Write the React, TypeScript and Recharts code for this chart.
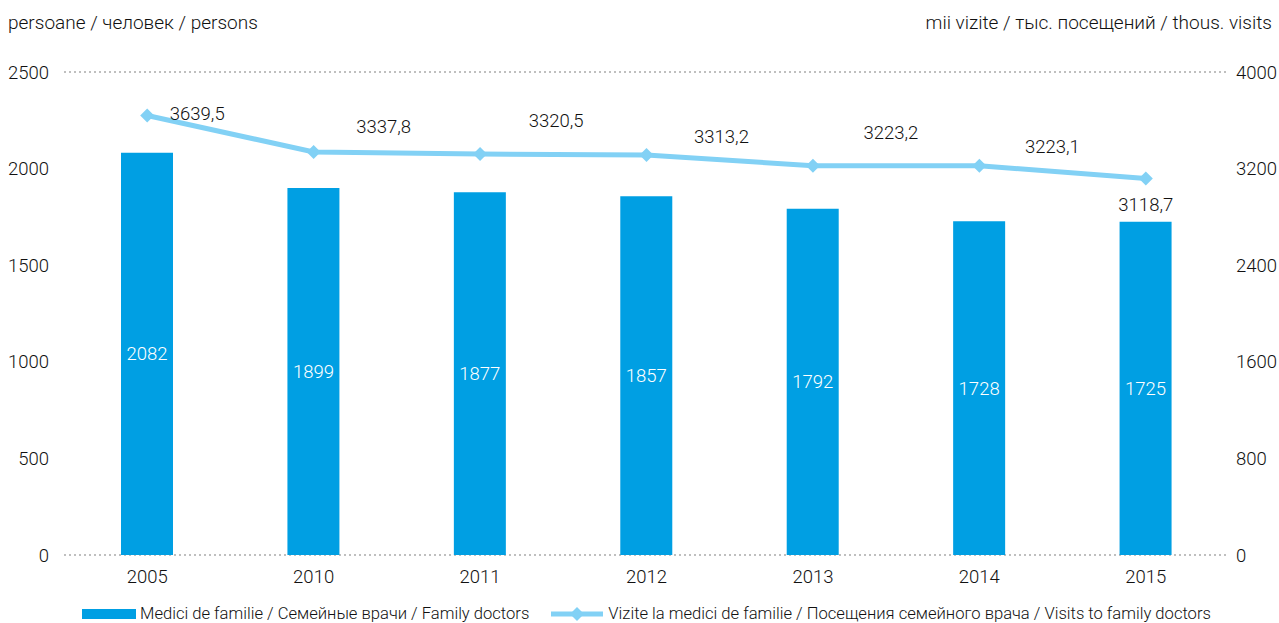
import { ComposedChart, Bar, Line, XAxis, YAxis, CartesianGrid, Legend, LabelList } from 'recharts';

const years = ['2005', '2010', '2011', '2012', '2013', '2014', '2015'];
const doctors = [2082, 1899, 1877, 1857, 1792, 1728, 1725];
const visits = [3639.5, 3337.8, 3320.5, 3313.2, 3223.2, 3223.1, 3118.7];
const leftTicks = [0, 500, 1000, 1500, 2000, 2500];
const rightTicks = [0, 800, 1600, 2400, 3200, 4000];

const data = years.map((y, i) => ({ year: y, doctors: doctors[i], visits: visits[i] }));

const FONT = 'Roboto, sans-serif';
const BAR = '#009fe3';
const LINE = '#82d1f5';
const TXT = '#111';
const W = 300;

// where each line label sits relative to its point
const lineLabelShift = [
  [50, -2], [70, -25], [76, -33], [75, -18], [78, -33], [73, -19], [0, 27],
];

const fmt = (v: number) => v.toFixed(1).replace('.', ',');

function Diamond(props: any) {
  const { cx, cy } = props;
  if (cx == null || cy == null) return null;
  const r = 7;
  return <polygon points={`${cx},${cy - r} ${cx + r},${cy} ${cx},${cy + r} ${cx - r},${cy}`} fill={LINE} />;
}

function VisitLabel(props: any) {
  const { x, y, value, index } = props;
  const [dx, dy] = lineLabelShift[index] || [0, -20];
  return (
    <text x={x + dx} y={y + dy} textAnchor="middle" dominantBaseline="central" fill={TXT} fontSize={18.5} fontFamily={FONT} fontWeight={W}>
      {fmt(value)}
    </text>
  );
}

function LegendBox() {
  return (
    <div style={{ display: 'flex', justifyContent: 'center', alignItems: 'center', fontFamily: FONT, fontSize: 16.6, fontWeight: W, color: TXT, paddingLeft: 14, marginTop: 9 }}>
      <svg width={56} height={12} style={{ marginRight: 2 }}>
        <rect x={0} y={1} width={54} height={10} fill={BAR} />
      </svg>
      <span style={{ marginRight: 22 }}>Medici de familie / Семейные врачи / Family doctors</span>
      <svg width={54} height={16} style={{ marginRight: 3 }}>
        <line x1={0} y1={8} x2={52} y2={8} stroke={LINE} strokeWidth={5} />
        <polygon points="26,1 33,8 26,15 19,8" fill={LINE} />
      </svg>
      <span>Vizite la medici de familie / Посещения семейного врача / Visits to family doctors</span>
    </div>
  );
}

export default function App() {
  return (
    <div style={{ position: 'absolute', left: 0, top: 0, width: 1279, height: 623, background: '#fff', overflow: 'hidden' }}>
      <div style={{ position: 'absolute', left: 8, top: 11, fontFamily: FONT, fontSize: 19, fontWeight: W, color: TXT }}>
        persoane / человек / persons
      </div>
      <div style={{ position: 'absolute', right: 7, top: 11, fontFamily: FONT, fontSize: 19, fontWeight: W, color: TXT }}>
        mii vizite / тыс. посещений / thous. visits
      </div>
      <ComposedChart width={1279} height={623} data={data} margin={{ top: 72, right: 0, left: 0, bottom: 0 }}>
        <CartesianGrid vertical={false} stroke="#aaa" strokeDasharray="2 3" strokeWidth={1.5} />
        <XAxis dataKey="year" axisLine={false} tickLine={false} tickMargin={9} height={40}
          tick={{ fill: TXT, fontSize: 18.5, fontFamily: FONT, fontWeight: W }} />
        <YAxis yAxisId="left" domain={[0, 2500]} ticks={leftTicks} width={64} axisLine={false} tickLine={false} tickMargin={9}
          tick={{ fill: TXT, fontSize: 18.5, fontFamily: FONT, fontWeight: W }} />
        <YAxis yAxisId="right" orientation="right" domain={[0, 4000]} ticks={rightTicks} width={50} axisLine={false} tickLine={false} tickMargin={1}
          tick={{ fill: TXT, fontSize: 18.5, fontFamily: FONT, fontWeight: W, textAnchor: 'start' }} />
        <Legend verticalAlign="bottom" height={28} content={() => <LegendBox />} />
        <Bar yAxisId="left" dataKey="doctors" fill={BAR} barSize={52} isAnimationActive={false}>
          <LabelList dataKey="doctors" position="center" fill="#fff" fontSize={18.5} fontFamily={FONT} fontWeight={300} />
        </Bar>
        <Line yAxisId="right" dataKey="visits" stroke={LINE} strokeWidth={5} dot={<Diamond />} activeDot={false} isAnimationActive={false}>
          <LabelList dataKey="visits" content={<VisitLabel />} />
        </Line>
      </ComposedChart>
    </div>
  );
}
